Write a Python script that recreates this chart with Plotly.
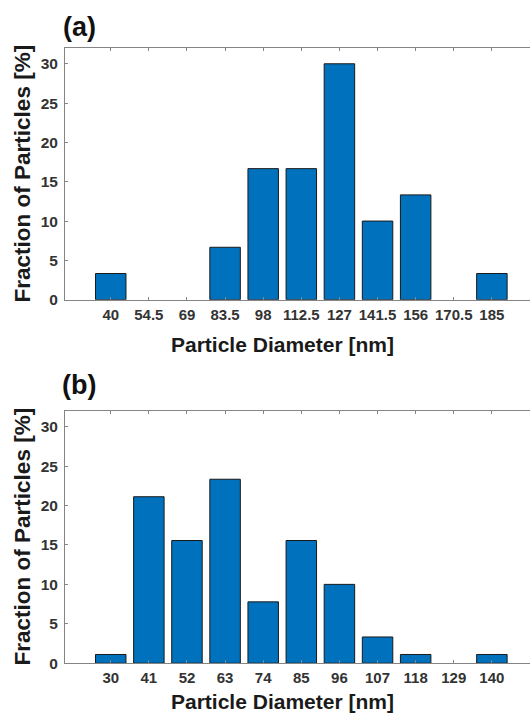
import plotly.graph_objects as go

# Data
cats_a = ["40", "54.5", "69", "83.5", "98", "112.5", "127", "141.5", "156", "170.5", "185"]
vals_a = [3.33, 0, 0, 6.67, 16.67, 16.67, 30.0, 10.0, 13.33, 0, 3.33]
cats_b = ["30", "41", "52", "63", "74", "85", "96", "107", "118", "129", "140"]
vals_b = [1.11, 21.11, 15.56, 23.33, 7.78, 15.56, 10.0, 3.33, 1.11, 0, 1.11]
y_ticks = [0, 5, 10, 15, 20, 25, 30]
panel_labels = ["(a)", "(b)"]
x_title = "Particle Diameter [nm]"
y_title = "Fraction of Particles [%]"

W = 530
H_REF = 720          # layout designed in these pixel coordinates
H = 729              # figure height
L = 65.3
PW = W - L
BAR = "#0072BD"
AX = "#858585"
FONT = "Liberation Sans, Arial, sans-serif"


def nz(vals):
    # empty bins are drawn as no bar at all
    return [v if v > 0 else None for v in vals]


fig = go.Figure()
fig.add_trace(go.Bar(x=cats_a, y=nz(vals_a), width=0.8,
                     marker=dict(color=BAR, line=dict(color="#1a1a1a", width=1)),
                     xaxis="x", yaxis="y", showlegend=False))
fig.add_trace(go.Bar(x=cats_b, y=nz(vals_b), width=0.8,
                     marker=dict(color=BAR, line=dict(color="#1a1a1a", width=1)),
                     xaxis="x2", yaxis="y2", showlegend=False))


def ydom(top_px, bot_px):
    return [1 - bot_px / H_REF, 1 - top_px / H_REF]


xcommon = dict(type="category", range=[-1.2, 11.0], showline=True, linecolor=AX, linewidth=1,
               mirror="ticks", ticks="inside", ticklen=3, tickcolor=AX, showgrid=False, zeroline=False,
               tickfont=dict(family=FONT, size=15, color="#333333", weight="bold"),
               ticklabelstandoff=1, domain=[0, 1], fixedrange=True)
ycommon = dict(range=[0, 32], tickvals=y_ticks, showline=True, linecolor=AX, linewidth=1,
               ticks="inside", ticklen=3, tickcolor=AX, showgrid=False, zeroline=False,
               tickfont=dict(family=FONT, size=15.5, color="#333333", weight="bold"),
               ticklabelstandoff=3, fixedrange=True)

fig.update_layout(
    width=W, height=H,
    margin=dict(l=L, r=0, t=0, b=0),
    paper_bgcolor="white", plot_bgcolor="white",
    bargap=0.2,
    xaxis=dict(**xcommon, anchor="y"),
    yaxis=dict(**ycommon, domain=ydom(48, 299.3), anchor="x"),
    xaxis2=dict(**xcommon, anchor="y2"),
    yaxis2=dict(**ycommon, domain=ydom(410.3, 662.3), anchor="x2"),
)


def px_x(px):
    return (px - L) / PW


def px_y(py):
    return 1 - py / H_REF


annos = []
for lab, ly in zip(panel_labels, [26.5, 384]):
    annos.append(dict(text="<b>%s</b>" % lab, x=px_x(79.5), y=px_y(ly), xref="paper", yref="paper",
                      xanchor="center", yanchor="middle", showarrow=False,
                      font=dict(family=FONT, size=27, color="#111111")))
for xy in [344, 701]:
    annos.append(dict(text="<b>%s</b>" % x_title, x=px_x(283), y=px_y(xy), xref="paper", yref="paper",
                      xanchor="center", yanchor="middle", showarrow=False,
                      font=dict(family=FONT, size=21, color="#1a1a1a")))
for yc in [173.5, 536]:
    annos.append(dict(text="<b>%s</b>" % y_title, x=px_x(23), y=px_y(yc), xref="paper", yref="paper",
                      xanchor="center", yanchor="middle", showarrow=False, textangle=-90,
                      font=dict(family=FONT, size=22.5, color="#1a1a1a")))
fig.update_layout(annotations=annos)

post = (
    "document.documentElement.style.margin='0';"
    "document.documentElement.style.padding='0';"
    "document.documentElement.style.overflow='hidden';"
    "document.body.style.margin='0';"
    "document.body.style.padding='0';"
    "document.body.style.overflow='hidden';"
)
fig.write_html("out.html", config={"displayModeBar": False, "staticPlot": True}, post_script=post)
